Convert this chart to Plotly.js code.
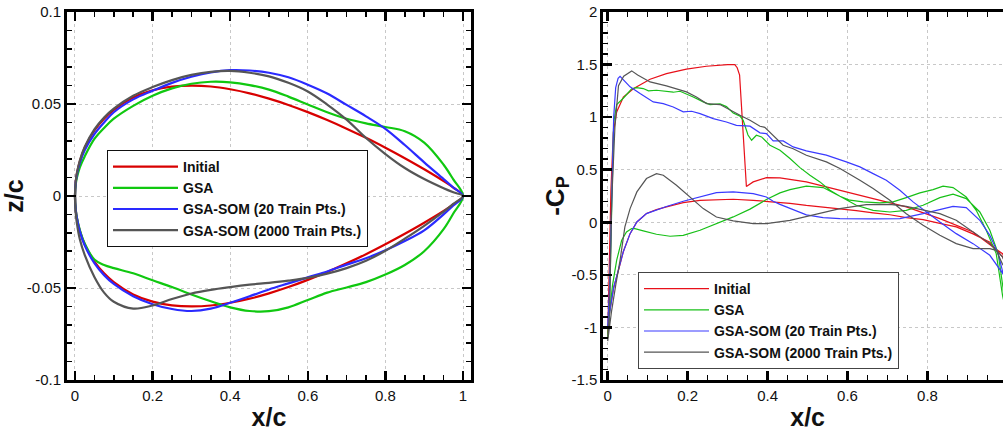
<!DOCTYPE html>
<html>
<head>
<meta charset="utf-8">
<script src="https://cdn.plot.ly/plotly-3.0.1.min.js"></script>
<style>
html,body{margin:0;padding:0;overflow:hidden;background:#fff;width:1003px;height:431px;}
#chart{width:1020px;height:431px;}
</style>
</head>
<body>
<div id="chart"></div>
<script>
// ---------- series names ----------
const seriesNames = ["Initial", "GSA", "GSA-SOM (20 Train Pts.)", "GSA-SOM (2000 Train Pts.)"];

// ---------- left plot: airfoil shapes (x/c stations, z/c upper and lower) ----------
const shapeX = [0, 0.002, 0.005, 0.0125, 0.025, 0.05, 0.075, 0.1, 0.15, 0.2, 0.25, 0.3, 0.35, 0.4, 0.45, 0.5, 0.55, 0.6, 0.65, 0.7, 0.75, 0.8, 0.85, 0.9, 0.95, 0.975, 1.0];

const initialUpperZ = [0, 0.0078, 0.0122, 0.0189, 0.0262, 0.0356, 0.0420, 0.0468, 0.0535, 0.0574, 0.0594, 0.0600, 0.0595, 0.0580, 0.0558, 0.0529, 0.0495, 0.0456, 0.0413, 0.0366, 0.0316, 0.0262, 0.0205, 0.0145, 0.0081, 0.0046, 0];
const initialLowerZ = [0, -0.0078, -0.0122, -0.0189, -0.0262, -0.0356, -0.0420, -0.0468, -0.0535, -0.0574, -0.0594, -0.0600, -0.0595, -0.0580, -0.0558, -0.0529, -0.0495, -0.0456, -0.0413, -0.0366, -0.0316, -0.0262, -0.0205, -0.0145, -0.0081, -0.0046, 0];

const gsaUpperZ = [0, 0.0065, 0.0100, 0.0155, 0.0215, 0.0310, 0.0370, 0.0420, 0.0490, 0.0545, 0.0585, 0.0610, 0.0621, 0.0618, 0.0603, 0.0578, 0.0540, 0.0497, 0.0455, 0.0420, 0.0395, 0.0375, 0.0352, 0.0290, 0.0170, 0.0090, 0];
const gsaLowerZ = [0, -0.0075, -0.0118, -0.0185, -0.0258, -0.0345, -0.0375, -0.0392, -0.0420, -0.0458, -0.0495, -0.0535, -0.0572, -0.0605, -0.0625, -0.0626, -0.0605, -0.0565, -0.0525, -0.0497, -0.0468, -0.0427, -0.0375, -0.0300, -0.0180, -0.0095, 0];

const som20UpperZ = [0, 0.0075, 0.0117, 0.0180, 0.0248, 0.0336, 0.0400, 0.0455, 0.0525, 0.0572, 0.0615, 0.0648, 0.0672, 0.0684, 0.0682, 0.0670, 0.0645, 0.0605, 0.0557, 0.0495, 0.0433, 0.0365, 0.0277, 0.0183, 0.0092, 0.0046, 0];
const som20LowerZ = [0, -0.0078, -0.0122, -0.0192, -0.0268, -0.0365, -0.0430, -0.0478, -0.0545, -0.0588, -0.0614, -0.0625, -0.0612, -0.0580, -0.0545, -0.0508, -0.0475, -0.0442, -0.0410, -0.0373, -0.0338, -0.0295, -0.0245, -0.0187, -0.0100, -0.0052, 0];

const som2000UpperZ = [0, 0.0080, 0.0125, 0.0193, 0.0266, 0.0362, 0.0427, 0.0475, 0.0545, 0.0592, 0.0630, 0.0658, 0.0675, 0.0680, 0.0670, 0.0650, 0.0615, 0.0568, 0.0497, 0.0415, 0.0315, 0.0228, 0.0152, 0.0092, 0.0042, 0.0020, 0];
const som2000LowerZ = [0, -0.0095, -0.0150, -0.0235, -0.0320, -0.0440, -0.0525, -0.0575, -0.0612, -0.0595, -0.0560, -0.0530, -0.0510, -0.0495, -0.0482, -0.0472, -0.0460, -0.0445, -0.0422, -0.0392, -0.0352, -0.0298, -0.0232, -0.0162, -0.0085, -0.0043, 0];

// ---------- right plot: pressure distributions (-Cp) ----------
const initialUpX  = [0, 0.003, 0.008, 0.014, 0.0225, 0.039, 0.064, 0.106, 0.147, 0.197, 0.247, 0.3, 0.318, 0.324, 0.33, 0.347, 0.364, 0.397, 0.431, 0.497, 0.581, 0.664, 0.747, 0.831, 0.914, 0.964, 0.988, 1.0];
const initialUpCp = [-1.1, -0.6, 0.3, 0.85, 1.05, 1.19, 1.27, 1.36, 1.414, 1.456, 1.484, 1.50, 1.50, 1.47, 1.40, 0.34, 0.384, 0.425, 0.422, 0.384, 0.305, 0.225, 0.146, 0.035, -0.092, -0.235, -0.3, -0.4];
const initialLoX  = [0, 0.005, 0.015, 0.027, 0.039, 0.056, 0.073, 0.097, 0.122, 0.147, 0.189, 0.231, 0.272, 0.314, 0.364, 0.414, 0.456, 0.497, 0.539, 0.581, 0.622, 0.664, 0.706, 0.747, 0.789, 0.831, 0.872, 0.914, 0.956, 0.988, 1.0];
const initialLoCp = [-1.1, -0.85, -0.62, -0.457, -0.28, -0.108, 0.003, 0.083, 0.12, 0.146, 0.187, 0.209, 0.216, 0.219, 0.209, 0.194, 0.18, 0.16, 0.145, 0.125, 0.11, 0.09, 0.072, 0.045, 0.025, -0.01, -0.044, -0.11, -0.19, -0.33, -0.42];

const gsaUpX  = [0, 0.005, 0.01, 0.015, 0.0225, 0.039, 0.06, 0.072, 0.089, 0.102, 0.122, 0.147, 0.164, 0.181, 0.214, 0.239, 0.256, 0.281, 0.297, 0.314, 0.331, 0.339, 0.351, 0.36, 0.372, 0.385, 0.406, 0.431, 0.456, 0.481, 0.506, 0.531, 0.556, 0.581, 0.606, 0.639, 0.681, 0.714, 0.747, 0.781, 0.814, 0.839, 0.864, 0.897, 0.922, 0.947, 0.972, 0.988, 1.0];
const gsaUpCp = [-1.1, -0.7, 0.2, 0.95, 1.12, 1.18, 1.27, 1.281, 1.272, 1.25, 1.256, 1.246, 1.237, 1.246, 1.192, 1.145, 1.12, 1.126, 1.1, 1.04, 1.01, 0.97, 0.83, 0.78, 0.828, 0.812, 0.733, 0.685, 0.606, 0.52, 0.448, 0.384, 0.305, 0.248, 0.21, 0.194, 0.184, 0.194, 0.235, 0.279, 0.311, 0.343, 0.33, 0.241, 0.114, -0.076, -0.298, -0.7, -0.9];
const gsaLoX  = [0, 0.005, 0.012, 0.0225, 0.035, 0.047, 0.06, 0.068, 0.089, 0.122, 0.156, 0.189, 0.231, 0.272, 0.314, 0.356, 0.397, 0.431, 0.456, 0.497, 0.539, 0.581, 0.622, 0.664, 0.706, 0.747, 0.789, 0.831, 0.864, 0.897, 0.931, 0.956, 0.977, 0.99, 1.0];
const gsaLoCp = [-1.1, -0.85, -0.6, -0.36, -0.171, -0.092, -0.06, -0.06, -0.082, -0.114, -0.133, -0.124, -0.076, -0.013, 0.051, 0.125, 0.216, 0.28, 0.311, 0.343, 0.33, 0.248, 0.162, 0.114, 0.098, 0.114, 0.162, 0.235, 0.267, 0.225, 0.098, -0.076, -0.298, -0.65, -0.9];

const som20UpX  = [0, 0.005, 0.01, 0.015, 0.02, 0.026, 0.031, 0.043, 0.056, 0.081, 0.114, 0.139, 0.164, 0.189, 0.21, 0.231, 0.264, 0.297, 0.322, 0.356, 0.381, 0.397, 0.414, 0.439, 0.464, 0.497, 0.547, 0.597, 0.631, 0.664, 0.697, 0.731, 0.764, 0.797, 0.831, 0.872, 0.914, 0.956, 0.988, 1.0];
const som20UpCp = [-1.0, -0.6, 0.3, 1.0, 1.28, 1.37, 1.389, 1.34, 1.288, 1.224, 1.145, 1.129, 1.097, 1.05, 1.056, 1.034, 0.986, 0.954, 0.922, 0.914, 0.851, 0.844, 0.774, 0.774, 0.717, 0.679, 0.638, 0.574, 0.527, 0.463, 0.4, 0.305, 0.194, 0.098, 0.003, -0.108, -0.203, -0.314, -0.485, -0.55];
const som20LoX  = [0, 0.005, 0.015, 0.027, 0.039, 0.056, 0.073, 0.097, 0.122, 0.147, 0.189, 0.231, 0.272, 0.314, 0.364, 0.397, 0.414, 0.431, 0.456, 0.497, 0.539, 0.581, 0.664, 0.731, 0.789, 0.831, 0.864, 0.897, 0.931, 0.956, 0.977, 0.99, 1.0];
const som20LoCp = [-1.0, -0.85, -0.62, -0.45, -0.28, -0.108, 0.003, 0.083, 0.12, 0.15, 0.2, 0.241, 0.282, 0.289, 0.273, 0.241, 0.2, 0.17, 0.13, 0.07, 0.044, 0.035, 0.032, 0.035, 0.082, 0.12, 0.152, 0.14, 0.019, -0.124, -0.298, -0.5, -0.55];

const som2000UpX  = [0, 0.005, 0.01, 0.018, 0.027, 0.04, 0.06, 0.075, 0.089, 0.106, 0.147, 0.197, 0.222, 0.2475, 0.281, 0.306, 0.331, 0.356, 0.381, 0.393, 0.414, 0.439, 0.464, 0.497, 0.547, 0.581, 0.631, 0.664, 0.706, 0.747, 0.789, 0.831, 0.872, 0.914, 0.956, 0.972, 0.988, 1.0];
const som2000UpCp = [-1.13, -0.8, 0.2, 0.9, 1.3, 1.39, 1.44, 1.40, 1.367, 1.335, 1.297, 1.24, 1.192, 1.129, 1.12, 1.065, 1.018, 0.97, 0.913, 0.903, 0.828, 0.733, 0.7, 0.638, 0.574, 0.511, 0.4, 0.321, 0.21, 0.082, -0.029, -0.124, -0.203, -0.251, -0.251, -0.267, -0.4, -0.45];
const som2000LoX  = [0, 0.005, 0.01, 0.02, 0.031, 0.043, 0.056, 0.073, 0.097, 0.122, 0.139, 0.172, 0.206, 0.239, 0.272, 0.314, 0.364, 0.397, 0.456, 0.497, 0.581, 0.647, 0.706, 0.747, 0.797, 0.831, 0.872, 0.914, 0.956, 0.988, 1.0];
const som2000LoCp = [-1.13, -0.95, -0.837, -0.6, -0.36, -0.044, 0.13, 0.289, 0.416, 0.463, 0.447, 0.352, 0.241, 0.13, 0.05, 0.013, -0.013, -0.013, 0.019, 0.057, 0.13, 0.168, 0.171, 0.152, 0.114, 0.082, 0.019, -0.092, -0.203, -0.33, -0.45];

// ---------- tick labels ----------
const leftXTickVals = [0, 0.2, 0.4, 0.6, 0.8, 1];
const leftXTickText = ["0", "0.2", "0.4", "0.6", "0.8", "1"];
const leftYTickVals = [-0.1, -0.05, 0, 0.05, 0.1];
const leftYTickText = ["-0.1", "-0.05", "0", "0.05", "0.1"];
const rightXTickVals = [0, 0.2, 0.4, 0.6, 0.8, 1];
const rightXTickText = ["0", "0.2", "0.4", "0.6", "0.8", "1"];
const rightYTickVals = [-1.5, -1, -0.5, 0, 0.5, 1, 1.5, 2];
const rightYTickText = ["-1.5", "-1", "-0.5", "0", "0.5", "1", "1.5", "2"];

// ---------- styling ----------
const shapeColors = ["#d80000", "#10c810", "#2a2aff", "#555555"];
const cpColors = ["#e8101a", "#18c018", "#3a3aff", "#555555"];
const FONT = "'Liberation Sans', Arial, Helvetica, sans-serif";

function loop(xUp, zUp, xLo, zLo) {
  const xs = xUp.slice().reverse().concat(xLo.slice(1));
  const zs = zUp.slice().reverse().concat(zLo.slice(1));
  return [xs, zs];
}

const shapeSets = [
  [initialUpperZ, initialLowerZ],
  [gsaUpperZ, gsaLowerZ],
  [som20UpperZ, som20LowerZ],
  [som2000UpperZ, som2000LowerZ]
];
const cpSets = [
  [initialUpX, initialUpCp, initialLoX, initialLoCp],
  [gsaUpX, gsaUpCp, gsaLoX, gsaLoCp],
  [som20UpX, som20UpCp, som20LoX, som20LoCp],
  [som2000UpX, som2000UpCp, som2000LoX, som2000LoCp]
];

const traces = [];
shapeSets.forEach((s, i) => {
  const [xs, zs] = loop(shapeX, s[0], shapeX, s[1]);
  traces.push({
    x: xs, y: zs, type: 'scatter', mode: 'lines', name: seriesNames[i],
    xaxis: 'x', yaxis: 'y', legend: 'legend',
    line: {color: shapeColors[i], width: 2.2, shape: 'spline', smoothing: 1}
  });
});
cpSets.forEach((s, i) => {
  const [xs, cs] = loop(s[0], s[1], s[2], s[3]);
  traces.push({
    x: xs, y: cs, type: 'scatter', mode: 'lines', name: seriesNames[i],
    xaxis: 'x2', yaxis: 'y2', legend: 'legend2',
    line: {color: cpColors[i], width: 1.2}
  });
});

const W = 1020, H = 431;
function axisCommon() {
  return {
    showline: true, linecolor: 'black', linewidth: 3, mirror: 'ticks',
    ticks: 'inside', ticklen: 9, tickwidth: 2.5, tickcolor: 'black',
    showgrid: true, gridcolor: '#c8c8c8', griddash: 'dot', gridwidth: 1,
    zeroline: false, tickmode: 'array',
    tickfont: {family: FONT, size: 15, color: '#111'},
    fixedrange: true
  };
}

const layout = {
  width: W, height: H,
  margin: {l: 0, r: 0, t: 0, b: 0},
  paper_bgcolor: 'white', plot_bgcolor: 'white',
  font: {family: FONT},
  showlegend: true,
  xaxis: Object.assign(axisCommon(), {
    domain: [67 / W, 471 / W], range: [-0.0206, 1.0206], anchor: 'y',
    tickvals: leftXTickVals, ticktext: leftXTickText,
    minor: {dtick: 0.05, tick0: 0, ticks: 'inside', ticklen: 5, tickwidth: 1.5, tickcolor: 'black', showgrid: false},
    title: {text: 'x/c', font: {family: FONT, size: 25, weight: 'bold', color: '#111'}, standoff: 8}
  }),
  yaxis: Object.assign(axisCommon(), {
    domain: [51 / H, 419 / H], range: [-0.1, 0.1], anchor: 'x',
    tickvals: leftYTickVals, ticktext: leftYTickText,
    minor: {dtick: 0.01, tick0: 0, ticks: 'inside', ticklen: 5, tickwidth: 1.5, tickcolor: 'black', showgrid: false},
    title: {text: 'z/c', font: {family: FONT, size: 25, weight: 'bold', color: '#111'}, standoff: 6}
  }),
  xaxis2: Object.assign(axisCommon(), {
    domain: [603.3 / W, 1012 / W], range: [-0.011, 1.0115], anchor: 'y2',
    tickvals: rightXTickVals, ticktext: rightXTickText,
    minor: {dtick: 0.05, tick0: 0, ticks: 'inside', ticklen: 5, tickwidth: 1.5, tickcolor: 'black', showgrid: false},
    title: {text: 'x/c', font: {family: FONT, size: 25, weight: 'bold', color: '#111'}, standoff: 8}
  }),
  yaxis2: Object.assign(axisCommon(), {
    domain: [51 / H, 419 / H], range: [-1.5, 2], anchor: 'x2',
    tickvals: rightYTickVals, ticktext: rightYTickText,
    minor: {dtick: 0.1, tick0: 0, ticks: 'inside', ticklen: 5, tickwidth: 1.5, tickcolor: 'black', showgrid: false},
    title: {text: '-C<sub>P</sub>', font: {family: FONT, size: 26, weight: 'bold', color: '#111'}, standoff: 0}
  }),
  legend: {
    x: 107 / W, y: (H - 150) / H, xanchor: 'left', yanchor: 'top',
    bgcolor: 'white', bordercolor: '#111', borderwidth: 1,
    font: {family: FONT, size: 14, weight: 'bold', color: '#111'},
    itemwidth: 65, tracegroupgap: 0, itemclick: false, itemdoubleclick: false
  },
  legend2: {
    x: 638 / W, y: (H - 272) / H, xanchor: 'left', yanchor: 'top',
    bgcolor: 'white', bordercolor: '#444', borderwidth: 1,
    font: {family: FONT, size: 14, weight: 'bold', color: '#111'},
    itemwidth: 65, tracegroupgap: 0, itemclick: false, itemdoubleclick: false
  }
};

Plotly.newPlot('chart', traces, layout, {staticPlot: true, displayModeBar: false});
</script>
</body>
</html>
